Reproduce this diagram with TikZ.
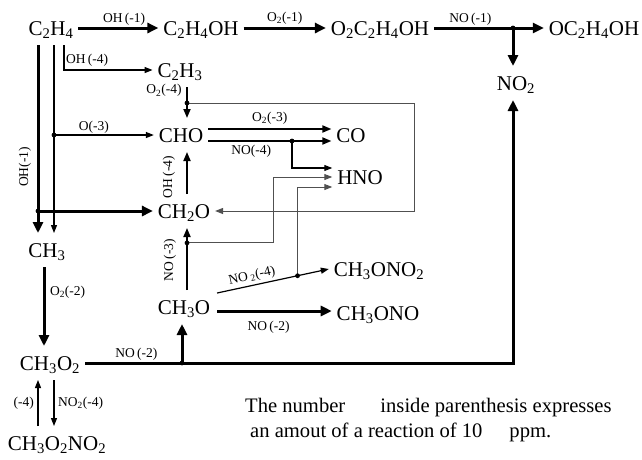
\documentclass[tikz,border=0pt]{standalone}
\usepackage{fontspec}
\setmainfont{Liberation Serif}
\usepackage{tikz}
\usetikzlibrary{arrows.meta,calc}
\definecolor{boxGray}{HTML}{505050}
\newcommand{\ix}[1]{\textsubscript{#1}}

\begin{document}
\begin{tikzpicture}[
    x=1pt, y=-1pt,
    species/.style={font=\fontsize{21}{24}\selectfont,inner sep=0pt,
                    text height=14pt,text depth=0pt,
                    outer xsep=5pt,outer ysep=10pt},
    rxnlbl/.style={font=\fontsize{13.5}{15}\selectfont,inner sep=1.5pt},
    notetext/.style={font=\fontsize{20.6}{24}\selectfont,inner sep=0pt},
    rxnbold/.style={line width=3pt,-{Triangle[length=11pt,width=10pt]}},
    rxnmid/.style={line width=1.7pt,-{Triangle[length=9pt,width=7pt]}},
    rxnthin/.style={line width=1.2pt,-{Triangle[length=8pt,width=6pt]}},
    boxline/.style={line width=1pt,draw=boxGray,-{Triangle[length=8pt,width=6pt]}},
  ]
  \useasboundingbox (0,0) rectangle (642,459);

  % species
  \node[species] (c2h4)     at (51,28)   {C\ix{2}H\ix{4}};
  \node[species] (c2h4oh)   at (201,28)  {C\ix{2}H\ix{4}OH};
  \node[species] (o2c2h4oh) at (380,28)  {O\ix{2}C\ix{2}H\ix{4}OH};
  \node[species] (oc2h4oh)  at (594,28)  {OC\ix{2}H\ix{4}OH};
  \node[species] (no2)      at (516,83)  {NO\ix{2}};
  \node[species] (c2h3)     at (180,70)  {C\ix{2}H\ix{3}};
  \node[species] (cho)      at (181,135) {CHO};
  \node[species] (co)       at (351,135) {CO};
  \node[species] (hno)      at (360,177) {HNO};
  \node[species] (ch2o)     at (184,211) {CH\ix{2}O};
  \node[species] (ch3)      at (47,250)  {CH\ix{3}};
  \node[species] (ch3o)     at (184,307) {CH\ix{3}O};
  \node[species] (ch3ono2)  at (379,269) {CH\ix{3}ONO\ix{2}};
  \node[species] (ch3ono)   at (378,313) {CH\ix{3}ONO};
  \node[species] (ch3o2)    at (50,363)  {CH\ix{3}O\ix{2}};
  \node[species] (ch3o2no2) at (57,443)  {CH\ix{3}O\ix{2}NO\ix{2}};

  % helper points
  \coordinate (lftA) at ([xshift=-13pt]c2h4.south);
  \coordinate (lftB) at ([xshift=3pt]c2h4.south);
  \coordinate (lftC) at ([xshift=13pt]c2h4.south);
  \coordinate (jno) at ([xshift=-3pt]no2.north |- o2c2h4oh.east);
  \coordinate (oh1dot) at (lftA |- ch2o.west);
  \coordinate (o3dot) at (lftB |- cho.west);
  \coordinate (c2h3low) at ([xshift=7pt]c2h3.south);
  \coordinate (boxne) at (414,103);
  \coordinate (o4dot) at (c2h3low |- boxne);
  \coordinate (chohi) at ($(cho.east)+(0,-6)$);
  \coordinate (cholo) at ($(cho.east)+(0,6)$);
  \coordinate (no4dot) at ($(cholo)!0.68!(cholo -| co.west)$);
  \coordinate (no3a) at ([xshift=3pt]ch3o.north);
  \coordinate (no3dot) at ($(no3a)!0.76!(no3a |- ch2o.south)$);
  \coordinate (no3bend) at ($(no3dot)+(86,0)$);
  \coordinate (no24a) at ($(ch3o.east)+(2,-14)$);
  \coordinate (no24dot) at ($(no24a)!0.72!(ch3ono2.west)$);
  \coordinate (onoa) at ($(ch3o.east)+(2,4)$);
  \coordinate (midlow) at ([xshift=-2pt]ch3o.south);
  \coordinate (no2dot) at (midlow |- ch3o2.east);
  \coordinate (c2low) at ([xshift=-3pt]ch3.south);
  \coordinate (pairA) at ([xshift=-12pt]ch3o2.south);
  \coordinate (pairB) at ([xshift=4pt]ch3o2.south);

  % top chain
  \draw[rxnbold] (c2h4) -- node[rxnlbl,above,pos=0.57]{OH\,(-1)} (c2h4oh);
  \draw[rxnbold] (c2h4oh) -- node[rxnlbl,above=1pt]{O\ix{2}(-1)} (o2c2h4oh);
  \draw[rxnbold] (o2c2h4oh) -- node[rxnlbl,above,pos=0.33]{NO\,(-1)} (oc2h4oh);
  \draw[rxnbold] (jno) -- (jno |- no2.north);

  % left column
  \draw[rxnbold] (lftA) -- (lftA |- ch3.north);
  \draw[rxnthin] (lftB) -- (lftB |- ch3.north);
  \draw[rxnthin] (lftC) |- node[rxnlbl,above=2pt,pos=0.63]{OH\,(-4)} (c2h3.west);
  \draw[rxnbold] (oh1dot) -- (ch2o.west);
  \draw[rxnthin] (o3dot) -- node[rxnlbl,above,pos=0.4]{O(-3)} (cho.west);
  \node[rxnlbl,rotate=90] (lbloh1) at (25,167) {OH(-1)};

  % C2H3 / CHO / CO / HNO
  \draw[rxnmid] (c2h3low) -- node[rxnlbl,left=3pt,pos=0.12]{O\ix{2}(-4)} (c2h3low |- cho.north);
  \draw[boxline] (o4dot) -- (boxne) |- (ch2o.east);
  \draw[rxnmid] (chohi) -- node[rxnlbl,above=2pt]{O\ix{2}(-3)} (chohi -| co.west);
  \draw[rxnmid] (cholo) -- node[rxnlbl,below=2pt,pos=0.35]{NO(-4)} (cholo -| co.west);
  \draw[rxnthin] (no4dot) |- ($(hno.west)+(0,-9)$);
  \draw[rxnmid] ([xshift=3pt]ch2o.north) -- ([xshift=3pt]ch2o.north |- cho.south);
  \node[rxnlbl,rotate=90] (lbloh4) at (169,177) {OH\,(-4)};

  % CH3O branch
  \draw[rxnmid] (no3a) -- (no3a |- ch2o.south);
  \node[rxnlbl,rotate=90] (lblno3) at (170,260) {NO\,(-3)};
  \draw[boxline] (no3dot) -- (no3bend) |- (hno.west);
  \draw[rxnthin] (no24a) -- node[rxnlbl,sloped,above=1pt,pos=0.33]{NO\,\ix{2}(-4)} (ch3ono2.west);
  \draw[boxline] (no24dot) |- ($(hno.west)+(0,10)$);
  \draw[rxnbold] (onoa) -- node[rxnlbl,below=7pt,pos=0.45]{NO\,(-2)} (onoa -| ch3ono.west);

  % CH3 / CH3O2
  \draw[rxnbold] (c2low) -- node[rxnlbl,right=3pt,pos=0.32]{O\ix{2}(-2)} (c2low |- ch3o2.north);
  \draw[rxnbold] (ch3o2.east) -| node[rxnlbl,above,pos=0.06]{NO\,(-2)} (jno |- no2.south);
  \draw[rxnbold] (no2dot) -- (midlow);
  \draw[rxnthin] (pairA |- ch3o2no2.north) -- node[rxnlbl,left=2pt]{(-4)} (pairA);
  \draw[rxnthin] (pairB) -- node[rxnlbl,right=2pt]{NO\ix{2}(-4)} (pairB |- ch3o2no2.north);

  % junction dots
  \foreach \j in {jno,oh1dot,o3dot,o4dot,no4dot,no3dot,no24dot,no2dot}
    \fill (\j) circle (2.4pt);

  % note
  \node[notetext,anchor=base west] (note1) at (245,412) {The number\hspace{30pt} inside parenthesis expresses};
  \node[notetext,anchor=base west] (note2) at (250,437) {an amout of a reaction of 10\hspace{27pt}ppm.};
\end{tikzpicture}
\end{document}
